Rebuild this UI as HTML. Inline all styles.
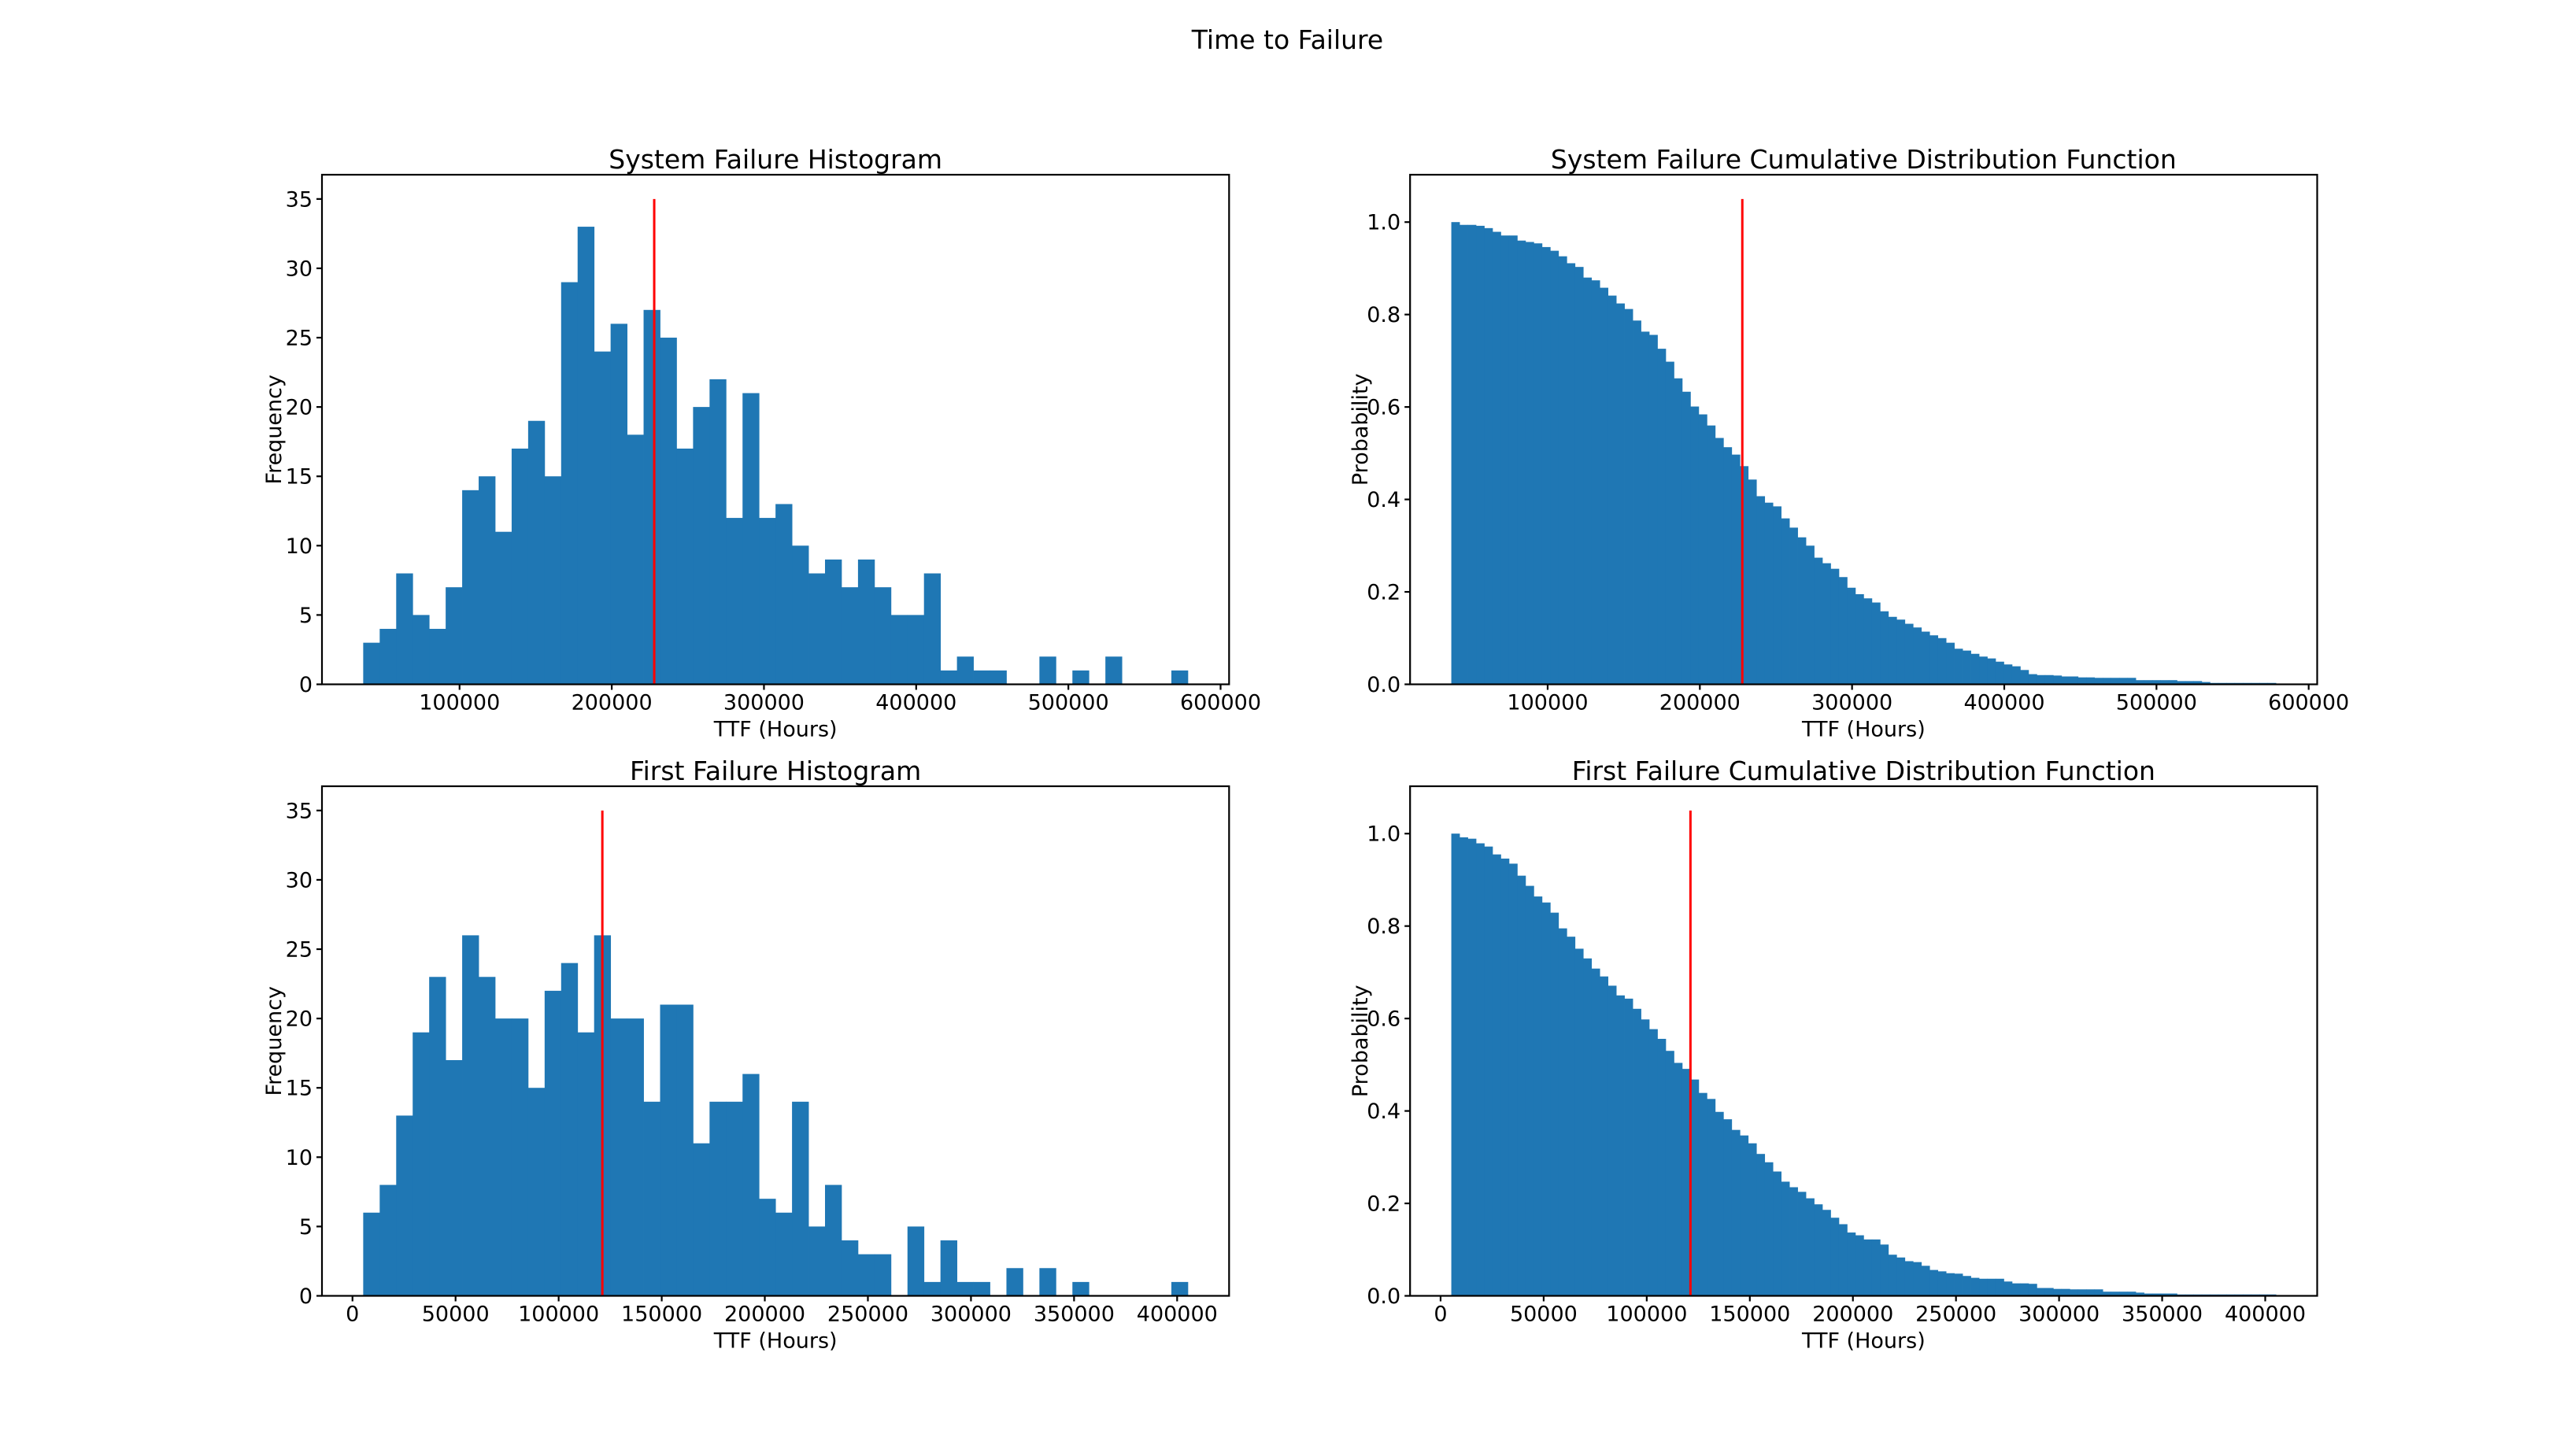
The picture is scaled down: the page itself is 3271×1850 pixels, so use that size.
<!DOCTYPE html>
<html><head><meta charset="utf-8"><style>
html,body{margin:0;padding:0;background:#fff;}
svg{display:block;font-family:"DejaVu Sans","Liberation Sans",sans-serif;}
</style></head><body>
<svg id="fig" width="3271" height="1850" viewBox="0 0 3271 1850" xmlns="http://www.w3.org/2000/svg">
<rect width="3271" height="1850" fill="#fff"/>
<text x="1635.5" y="62" font-size="33" text-anchor="middle">Time to Failure</text>
</svg>
<script>
// ---- data ----
const sysHistCounts = [3,4,8,5,4,7,14,15,11,17,19,15,29,33,24,26,18,27,25,17,20,22,12,21,12,13,10,8,9,7,9,7,5,5,8,1,2,1,1,0,0,2,0,1,0,2,0,0,0,1];
const sysBinStart = 36700;
const sysBinWidth = 10836;
const sysMean = 227900;
const firstHistCounts = [6,8,13,19,23,17,26,23,20,20,15,22,24,19,26,20,20,14,21,21,11,14,14,16,7,6,14,5,8,4,3,3,0,5,1,4,1,1,0,2,0,2,0,1,0,0,0,0,0,1];
const firstBinStart = 5200;
const firstBinWidth = 8000;
const firstMean = 121200;
const sysCdf = [1.000,0.994,0.994,0.992,0.987,0.979,0.971,0.971,0.960,0.957,0.954,0.946,0.938,0.926,0.911,0.903,0.880,0.874,0.858,0.841,0.824,0.812,0.787,0.763,0.756,0.726,0.698,0.662,0.633,0.601,0.584,0.560,0.533,0.513,0.497,0.472,0.443,0.407,0.393,0.385,0.359,0.339,0.318,0.300,0.274,0.262,0.250,0.232,0.209,0.195,0.186,0.177,0.158,0.146,0.140,0.131,0.123,0.114,0.106,0.100,0.090,0.077,0.073,0.066,0.060,0.056,0.049,0.043,0.039,0.031,0.022,0.020,0.020,0.019,0.017,0.017,0.015,0.015,0.014,0.014,0.014,0.014,0.014,0.009,0.009,0.009,0.009,0.009,0.007,0.007,0.007,0.005,0.003,0.003,0.003,0.003,0.003,0.003,0.003,0.003];
const firstCdf = [1.000,0.992,0.989,0.979,0.972,0.955,0.946,0.935,0.909,0.887,0.864,0.851,0.829,0.795,0.777,0.751,0.730,0.708,0.691,0.671,0.650,0.643,0.621,0.598,0.577,0.556,0.530,0.504,0.491,0.468,0.439,0.426,0.398,0.382,0.359,0.347,0.330,0.307,0.289,0.269,0.247,0.235,0.225,0.211,0.198,0.186,0.169,0.155,0.137,0.131,0.122,0.122,0.111,0.089,0.083,0.075,0.073,0.065,0.056,0.053,0.049,0.048,0.043,0.039,0.037,0.037,0.037,0.031,0.027,0.027,0.026,0.017,0.017,0.015,0.015,0.014,0.014,0.014,0.014,0.009,0.009,0.009,0.009,0.007,0.005,0.005,0.005,0.005,0.003,0.003,0.003,0.003,0.003,0.003,0.003,0.003,0.003,0.003,0.003,0.003];
const sysXTicks = [100000,200000,300000,400000,500000,600000];
const firstXTicks = [0,50000,100000,150000,200000,250000,300000,350000,400000];
const histYTicks = [0,5,10,15,20,25,30,35];
const cdfYTicks = [0,0.2,0.4,0.6,0.8,1.0];

const NS = "http://www.w3.org/2000/svg";
const fig = document.getElementById('fig');
function mk(tag, attrs, parent){
  const e = document.createElementNS(NS, tag);
  for (const k in attrs) e.setAttribute(k, attrs[k]);
  (parent||fig).appendChild(e); return e;
}
const AW = 1152.3, AH = 647.5;
function panel(opt){
  const g = mk('g', {});
  
  
  const x0 = opt.x0, y0 = opt.y0;
  const n = opt.values.length;
  const dataMin = opt.binStart, dataMax = opt.binStart + n*opt.binWidth;
  const m = (dataMax - dataMin)*0.05;
  const xmin = dataMin - m, xmax = dataMax + m;
  const X = v => x0 + (v - xmin)/(xmax - xmin)*AW;
  const Y = v => y0 + AH - v/opt.ymax*AH;
  opt.values.forEach((v,i)=>{
    if (v <= 0) return;
    const xa = X(opt.binStart + i*opt.binWidth), xb = X(opt.binStart + (i+1)*opt.binWidth);
    const r = mk('rect', {x:xa, y:Y(v), width:(xb-xa)+0.4, height:Y(0)-Y(v), fill:'#1f77b4'}, g);
    
    
  });
  const ml = mk('line', {x1:X(opt.mean), x2:X(opt.mean), y1:Y(0), y2:Y(opt.lineTop), stroke:'#ff0000', 'stroke-width':3}, g);
  
  
  const fr = mk('rect', {x:x0, y:y0, width:AW, height:AH, fill:'none', stroke:'#000', 'stroke-width':2.2}, g);
  
  
  opt.xticks.forEach(t=>{
    const x = X(t);
    mk('line', {x1:x, x2:x, y1:y0+AH, y2:y0+AH+7, stroke:'#000', 'stroke-width':2.2}, g);
    const tl = mk('text', {x:x, y:y0+AH+32, 'font-size':27, 'text-anchor':'middle'}, g);
    
    
    tl.textContent = String(t);
  });
  opt.yticks.forEach(t=>{
    const y = Y(t);
    mk('line', {x1:x0-7, x2:x0, y1:y, y2:y, stroke:'#000', 'stroke-width':2.2}, g);
    const tl = mk('text', {x:x0-12, y:y+9.5, 'font-size':27, 'text-anchor':'end'}, g);
    
    
    tl.textContent = opt.yfmt(t);
  });
  const tt = mk('text', {x:x0+AW/2, y:y0-8, 'font-size':33, 'text-anchor':'middle'}, g);
  
  
  tt.textContent = opt.title;
  const xl = mk('text', {x:x0+AW/2, y:y0+AH+66, 'font-size':27, 'text-anchor':'middle'}, g);
  
  
  xl.textContent = 'TTF (Hours)';
  const lx = opt.ylabelX, ly = y0+AH/2;
  const yl = mk('text', {x:lx, y:ly, 'font-size':27, 'text-anchor':'middle', transform:`rotate(-90 ${lx} ${ly})`}, g);
  
  
  yl.textContent = opt.ylabel;
}
const intFmt = t => String(t);
const decFmt = t => t.toFixed(1);
panel({name:'system-failure-histogram', x0:409, y0:222, values:sysHistCounts, binStart:sysBinStart, binWidth:sysBinWidth, mean:sysMean, ymax:36.75, lineTop:35, xticks:sysXTicks, yticks:histYTicks, yfmt:intFmt, title:'System Failure Histogram', ylabel:'Frequency', ylabelX:357});
panel({name:'system-failure-cdf', x0:1791.2, y0:222, values:sysCdf, binStart:sysBinStart, binWidth:sysBinWidth/2, mean:sysMean, ymax:1.1025, lineTop:1.05, xticks:sysXTicks, yticks:cdfYTicks, yfmt:decFmt, title:'System Failure Cumulative Distribution Function', ylabel:'Probability', ylabelX:1737});
panel({name:'first-failure-histogram', x0:409, y0:999, values:firstHistCounts, binStart:firstBinStart, binWidth:firstBinWidth, mean:firstMean, ymax:36.75, lineTop:35, xticks:firstXTicks, yticks:histYTicks, yfmt:intFmt, title:'First Failure Histogram', ylabel:'Frequency', ylabelX:357});
panel({name:'first-failure-cdf', x0:1791.2, y0:999, values:firstCdf, binStart:firstBinStart, binWidth:firstBinWidth/2, mean:firstMean, ymax:1.1025, lineTop:1.05, xticks:firstXTicks, yticks:cdfYTicks, yfmt:decFmt, title:'First Failure Cumulative Distribution Function', ylabel:'Probability', ylabelX:1737});
</script>
</body></html>
